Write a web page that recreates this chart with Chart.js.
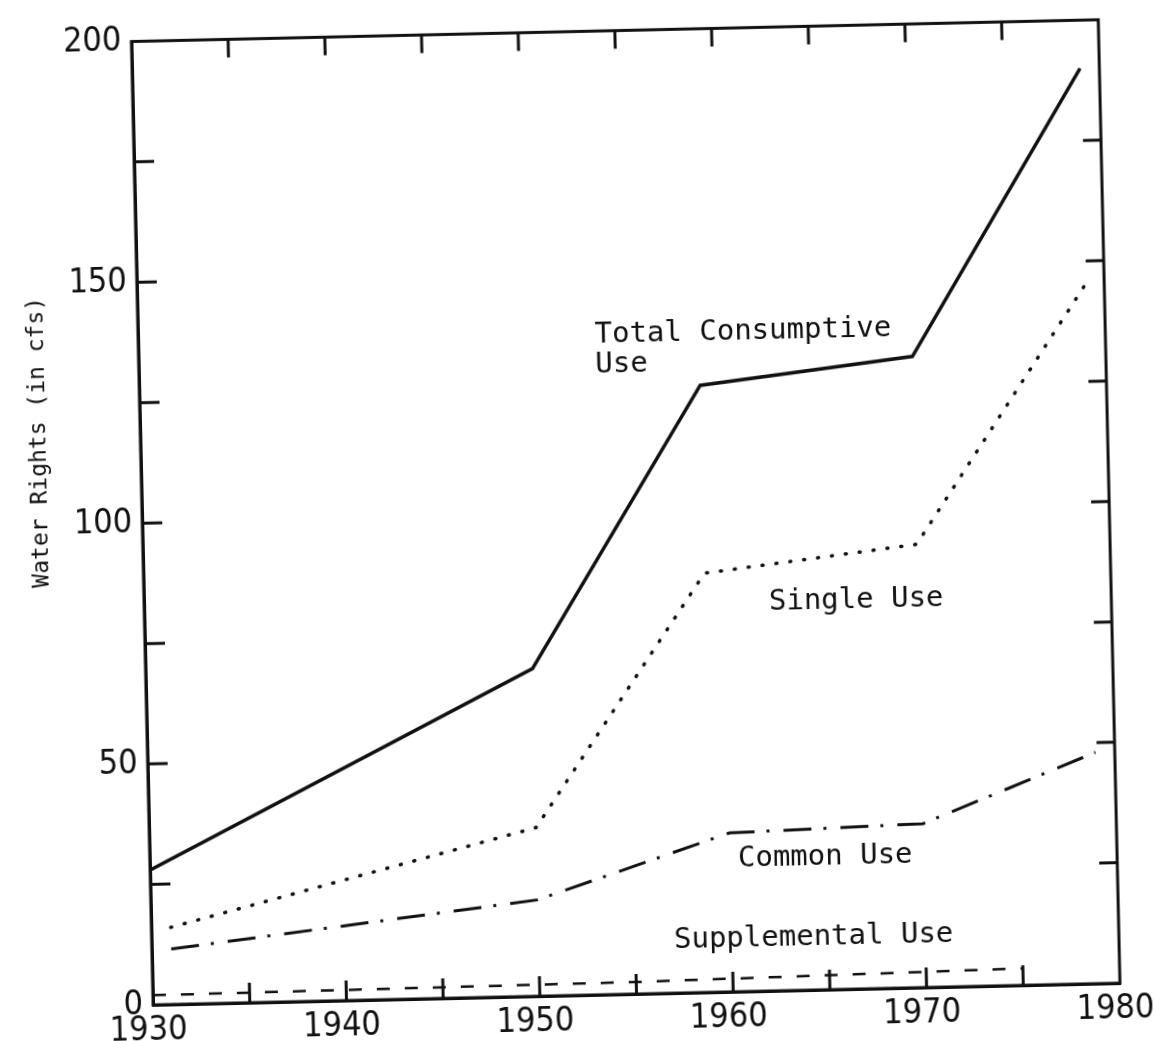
<!DOCTYPE html>
<html>
<head>
<meta charset="utf-8">
<script src="https://cdn.jsdelivr.net/npm/chart.js@4.4.1/dist/chart.umd.min.js"></script>
<style>
    html, body { margin: 0; padding: 0; background: #fff; }
    #wrap { width: 1154px; height: 1041px; position: relative; overflow: hidden; background: #fff; }
    /* the scanned page sits slightly tilted */
    #chart { position: absolute; left: 0; top: 0; transform-origin: 631px 506px; transform: rotate(-1.29deg); }
</style>
</head>
<body>
<div id="wrap"><canvas id="chart" width="1154" height="1041"></canvas></div>
<script>

const totalYears = [1930, 1950, 1959, 1970, 1979];
const totalUse = [28, 68, 126, 131, 190];

const singleYears = [1931, 1950, 1959, 1970, 1979];
const singleUse = [16, 35, 87, 92, 145];

const commonYears = [1931, 1950, 1960, 1970, 1979];
const commonUse = [11.5, 20, 33, 34, 48];

const supplementalYears = [1930, 1955, 1975];
const supplementalUse = [2, 2.5, 3.5];

const xTickLabels = [1930, 1940, 1950, 1960, 1970, 1980];
const xMinorTicks = [1935, 1940, 1945, 1950, 1955, 1960, 1965, 1970, 1975];
const yTickLabels = [0, 50, 100, 150, 200];
const yMinorTicks = [25, 50, 75, 100, 125, 150, 175];

const ink = "#111";
const narrow = "'Liberation Sans Narrow', 'DejaVu Sans Condensed', sans-serif";
const tickFont = { family: narrow, size: 34 };
const noteFont = "'DejaVu Sans Mono', monospace";

// text labels placed in data units
const notes = [
    { lines: ["Total Consumptive", "Use"], x: 1953.6, y: 136.8 },
    { lines: ["Single Use"], x: 1962.3, y: 80.7 },
    { lines: ["Common Use"], x: 1960.4, y: 27.5 },
    { lines: ["Supplemental Use"], x: 1957.0, y: 10.8 }
];

const toPoints = (xs, ys) => xs.map((x, i) => ({ x, y: ys[i] }));

const framePlugin = {
    id: "frame",
    afterDraw(chart) {
        const { ctx, chartArea: a, scales: { x, y } } = chart;
        ctx.save();
        ctx.strokeStyle = ink;
        ctx.lineWidth = 3;
        ctx.strokeRect(a.left, a.top, a.right - a.left, a.bottom - a.top);

        ctx.beginPath();
        xMinorTicks.forEach(v => {
            const px = x.getPixelForValue(v);
            ctx.moveTo(px, a.bottom);
            ctx.lineTo(px, a.bottom - 20);
            ctx.moveTo(px, a.top);
            ctx.lineTo(px, a.top + 18);
        });
        yMinorTicks.forEach(v => {
            const py = y.getPixelForValue(v);
            ctx.moveTo(a.left, py);
            ctx.lineTo(a.left + 20, py);
            ctx.moveTo(a.right, py);
            ctx.lineTo(a.right - 18, py);
        });
        ctx.stroke();

        ctx.fillStyle = ink;
        ctx.textBaseline = "middle";
        ctx.textAlign = "left";
        ctx.font = "29px " + noteFont;
        notes.forEach(n => {
            const px = x.getPixelForValue(n.x);
            const py = y.getPixelForValue(n.y);
            n.lines.forEach((t, i) => ctx.fillText(t, px, py + i * 30));
        });

        ctx.translate(41, 429);
        ctx.rotate(-Math.PI / 2);
        ctx.textAlign = "center";
        ctx.font = "23px " + noteFont;
        ctx.fillText("Water Rights (in cfs)", 0, 0);
        ctx.restore();
    }
};

new Chart(document.getElementById("chart"), {
    type: "line",
    data: {
        datasets: [
            {
                label: "Total Consumptive Use",
                data: toPoints(totalYears, totalUse),
                borderColor: ink,
                borderWidth: 3.5
            },
            {
                label: "Single Use",
                data: toPoints(singleYears, singleUse),
                borderColor: ink,
                borderWidth: 3.5,
                borderDash: [1, 13],
                borderCapStyle: "round"
            },
            {
                label: "Common Use",
                data: toPoints(commonYears, commonUse),
                borderColor: ink,
                borderWidth: 3,
                borderDash: [28, 12, 3, 14]
            },
            {
                label: "Supplemental Use",
                data: toPoints(supplementalYears, supplementalUse),
                borderColor: ink,
                borderWidth: 2.5,
                borderDash: [13, 15]
            }
        ]
    },
    options: {
        responsive: false,
        animation: false,
        layout: { autoPadding: false, padding: { top: 18, right: 34, left: 0, bottom: 0 } },
        elements: { point: { radius: 0 }, line: { tension: 0 } },
        plugins: { legend: { display: false }, tooltip: { enabled: false } },
        scales: {
            x: {
                type: "linear",
                min: 1930,
                max: 1980,
                afterBuildTicks: s => { s.ticks = xTickLabels.map(v => ({ value: v })); },
                afterFit: s => { s.height = 47; },
                grid: { display: false, drawTicks: false },
                border: { display: true, color: ink, width: 3 },
                ticks: { color: ink, font: tickFont, padding: 6, labelOffset: -5, maxRotation: 0, autoSkip: false, callback: v => String(v) }
            },
            y: {
                min: 0,
                max: 200,
                afterBuildTicks: s => { s.ticks = yTickLabels.map(v => ({ value: v })); },
                afterFit: s => { s.width = 142; },
                grid: { display: false, drawTicks: false },
                border: { display: true, color: ink, width: 3 },
                ticks: { color: ink, font: tickFont, padding: 10, autoSkip: false, callback: v => String(v) }
            }
        }
    },
    plugins: [framePlugin]
});

</script>
</body>
</html>
